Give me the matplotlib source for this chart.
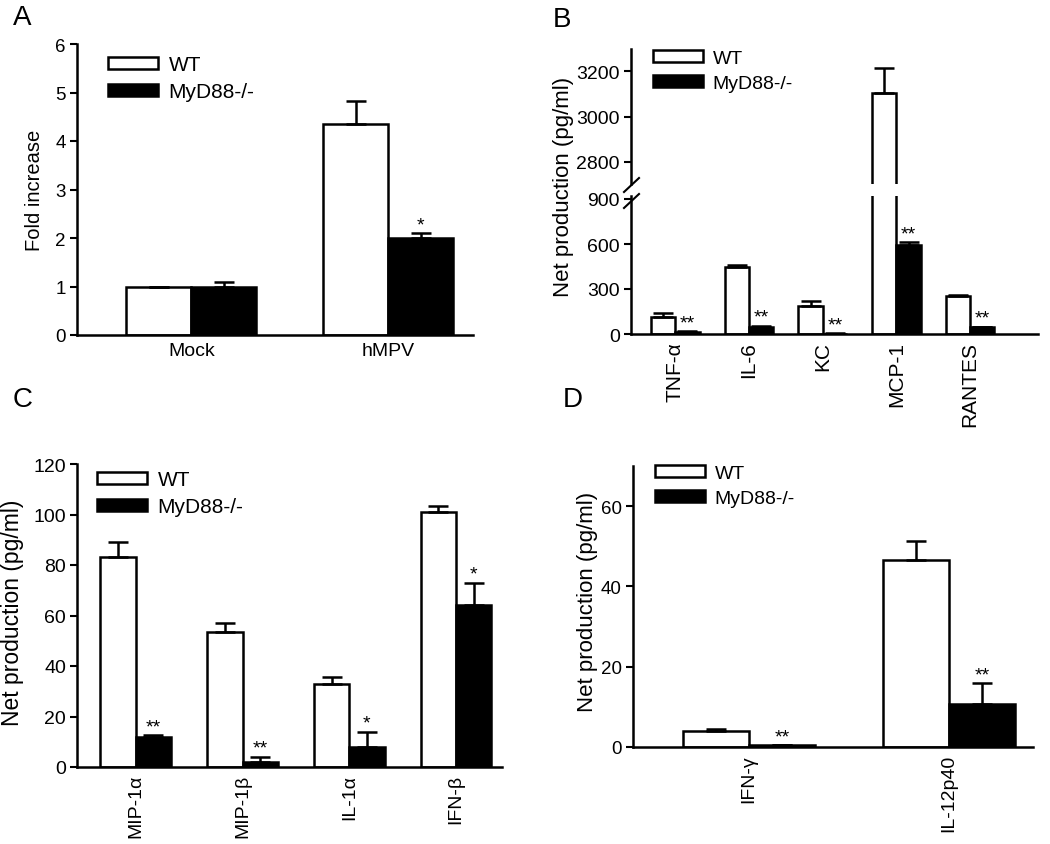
import matplotlib
matplotlib.use('Agg')
import matplotlib.pyplot as plt
from matplotlib.patches import Patch
from matplotlib.lines import Line2D
import numpy as np

plt.rcParams['font.family'] = ['Liberation Sans', 'DejaVu Sans']

# panel A: fold increase
a_groups = ['Mock', 'hMPV']
a_wt = [1.0, 4.35]
a_wt_err = [0.0, 0.47]
a_ko = [1.0, 2.0]
a_ko_err = [0.1, 0.1]
a_sig = ['', '*']

# panel B: cytokines (pg/ml), broken axis
b_groups = ['TNF-α', 'IL-6', 'KC', 'MCP-1', 'RANTES']
b_wt = [115, 447, 187, 3105, 255]
b_wt_err = [25, 12, 33, 108, 8]
b_ko = [15, 45, 3, 595, 45]
b_ko_err = [2, 10, 1, 18, 5]
b_sig = ['**', '**', '**', '**', '**']

# panel C: chemokines (pg/ml)
c_groups = ['MIP-1α', 'MIP-1β', 'IL-1α', 'IFN-β']
c_wt = [83, 53.5, 33, 101]
c_wt_err = [6, 3.5, 2.5, 2.5]
c_ko = [12, 2, 8, 64]
c_ko_err = [0.5, 2, 6, 9]
c_sig = ['**', '**', '*', '*']

# panel D
d_groups = ['IFN-γ', 'IL-12p40']
d_wt = [4, 46.7]
d_wt_err = [0.5, 4.5]
d_ko = [0.5, 10.7]
d_ko_err = [0, 5.2]
d_sig = ['**', '**']

W, H = 1050, 845
fig = plt.figure(figsize=(W / 100, H / 100), dpi=100)


def box(left, right, top, bottom):
    # pixel box -> figure fraction rect
    return [left / W, 1 - bottom / H, (right - left) / W, (bottom - top) / H]


def style(ax, fs=13.5, xfs=None):
    for s in ['top', 'right']:
        ax.spines[s].set_visible(False)
    for s in ['left', 'bottom']:
        ax.spines[s].set_linewidth(1.8)
    ax.tick_params(axis='y', direction='out', length=5, width=1.5, labelsize=fs, pad=3)
    ax.tick_params(axis='x', length=0, labelsize=xfs or fs, pad=5)


def bars(ax, wt, wt_err, ko, ko_err, sig, width=0.33, star_fs=14):
    n = len(wt)
    x = np.arange(n)
    ekw = dict(ecolor='black', elinewidth=1.8, capsize=7, capthick=1.8)
    ax.bar(x - width / 2, wt, width, color='white', edgecolor='black', linewidth=1.8,
           yerr=[np.zeros(n), wt_err], error_kw=ekw)
    ax.bar(x + width / 2, ko, width, color='black', edgecolor='black', linewidth=1.8,
           yerr=[np.zeros(n), ko_err], error_kw=ekw)
    for i in range(n):
        if sig[i]:
            ax.annotate(sig[i], (x[i] + width / 2, ko[i] + ko_err[i]), xytext=(0, 0),
                        textcoords='offset points', ha='center', va='bottom', fontsize=star_fs)
    return x


def legend(x, y, fs=14.5):
    h = [Patch(facecolor='white', edgecolor='black', linewidth=1.8),
         Patch(facecolor='black', edgecolor='black', linewidth=1.8)]
    em = fs * 100 / 72
    fig.legend(h, ['WT', 'MyD88-/-'], loc='upper left', bbox_to_anchor=(x / W, 1 - (y - 4) / H),
               frameon=False, fontsize=fs, handlelength=50 / em, handleheight=10.5 / em,
               handletextpad=0.5, labelspacing=0.4, borderpad=0, borderaxespad=0)


# ---- A ----
axA = fig.add_axes(box(77, 473, 45, 336))
x = bars(axA, a_wt, a_wt_err, a_ko, a_ko_err, a_sig)
axA.set_xlim(-0.58, 1.43)
axA.set_ylim(0, 6)
axA.set_yticks(range(7))
axA.set_xticks(x)
axA.set_xticklabels(a_groups)
style(axA, fs=13.5, xfs=14)
legend(108, 60, fs=15)
fig.text(35 / W, 1 - 190 / H, 'Fold increase', rotation=90, ha='center', va='center', fontsize=14.5)

# ---- B (broken y axis) ----
axBlo = fig.add_axes(box(631, 1038, 197, 335))
axBhi = fig.add_axes(box(631, 1038, 50, 185))
for ax in (axBlo, axBhi):
    x = bars(ax, b_wt, b_wt_err, b_ko, b_ko_err, b_sig)
    ax.set_xlim(-0.6, 4.92)
    style(ax, fs=14, xfs=15)
axBlo.set_ylim(0, 920)
axBlo.set_yticks([0, 300, 600, 900])
axBlo.set_xticks(x)
axBlo.set_xticklabels(b_groups, rotation=90)
axBhi.set_ylim(2703, 3297)
axBhi.set_yticks([2800, 3000, 3200])
axBhi.set_xticks([])
axBhi.spines['bottom'].set_visible(False)
for (x0, y0, x1, y1) in [(624, 193, 639, 179), (624, 209, 639, 195)]:
    fig.add_artist(Line2D([x0 / W, x1 / W], [1 - y0 / H, 1 - y1 / H], color='black', lw=1.5))
legend(653, 55, fs=14)
fig.text(564 / W, 1 - 187 / H, 'Net production (pg/ml)', rotation=90, ha='center', va='center', fontsize=16)

# ---- C ----
axC = fig.add_axes(box(77, 502, 465, 768))
x = bars(axC, c_wt, c_wt_err, c_ko, c_ko_err, c_sig)
axC.set_xlim(-0.55, 3.43)
axC.set_ylim(0, 120)
axC.set_yticks(range(0, 121, 20))
axC.set_xticks(x)
axC.set_xticklabels(c_groups, rotation=90)
style(axC, fs=14, xfs=14)
legend(97, 475, fs=15)
fig.text(13 / W, 1 - 613 / H, 'Net production (pg/ml)', rotation=90, ha='center', va='center', fontsize=16.5)

# ---- D ----
axD = fig.add_axes(box(633, 1033, 467, 748))
x = bars(axD, d_wt, d_wt_err, d_ko, d_ko_err, d_sig)
axD.set_xlim(-0.58, 1.42)
axD.set_ylim(0, 70)
axD.set_yticks([0, 20, 40, 60])
axD.set_xticks(x)
axD.set_xticklabels(d_groups, rotation=90)
style(axD, fs=13.5, xfs=14)
legend(655, 470, fs=14)
fig.text(588 / W, 1 - 602 / H, 'Net production (pg/ml)', rotation=90, ha='center', va='center', fontsize=16)

# panel letters
for lab, px, py in [('A', 13, 25), ('B', 553, 27), ('C', 13, 407), ('D', 563, 407)]:
    fig.text(px / W, 1 - py / H, lab, fontsize=20, ha='left', va='baseline')

fig.savefig('out.png', dpi=100)
